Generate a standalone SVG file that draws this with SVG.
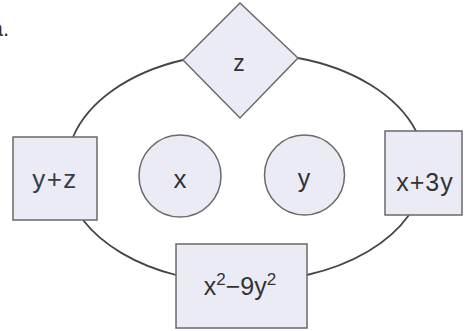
<svg xmlns="http://www.w3.org/2000/svg" width="464" height="331" viewBox="0 0 464 331">
<style>
.shape{fill:#ebebf6;stroke:#6a6a6a;stroke-width:1.5}
.conn{fill:none;stroke:#454545;stroke-width:1.8}
.lbl{font-family:"Liberation Sans",Arial,sans-serif;fill:#333;text-anchor:middle}
</style>
<rect width="464" height="331" fill="#ffffff"/>
<text class="lbl" x="0" y="36" font-size="22" style="text-anchor:end" dx="9">a.</text>
<g id="connectors">
<path class="conn" d="M183,60 A175,114 0 0 0 73,137"/>
<path class="conn" d="M298,58 A175,114 0 0 1 416,131"/>
<path class="conn" d="M83,220 A175,114 0 0 0 176,275"/>
<path class="conn" d="M307,275 A175,114 0 0 0 409,215"/>
</g>
<g id="node-z">
<polygon class="shape" points="240,3 298,58 240,118 183,60"/>
<text class="lbl" x="239" y="71" font-size="23" fill="#3a3f44">z</text>
</g>
<g id="node-yz">
<rect class="shape" x="13" y="137" width="84" height="83"/>
<text class="lbl" x="55" y="188" font-size="26" letter-spacing="1.5" style="fill:#34403f">y+z</text>
</g>
<g id="node-x">
<circle class="shape" cx="180" cy="176" r="41"/>
<text class="lbl" x="180" y="188" font-size="26">x</text>
</g>
<g id="node-y">
<circle class="shape" cx="304.5" cy="175" r="40"/>
<text class="lbl" x="304" y="187" font-size="25">y</text>
</g>
<g id="node-x3y">
<rect class="shape" x="385" y="131" width="77" height="84"/>
<text class="lbl" x="425" y="191" font-size="25" letter-spacing="1">x+3y</text>
</g>
<g id="node-bottom">
<rect class="shape" x="176" y="244" width="131" height="84"/>
<text class="lbl" x="240" y="295" font-size="25">x<tspan font-size="17" dy="-10">2</tspan><tspan dy="10">−9y</tspan><tspan font-size="17" dy="-10">2</tspan></text>
</g>
</svg>
